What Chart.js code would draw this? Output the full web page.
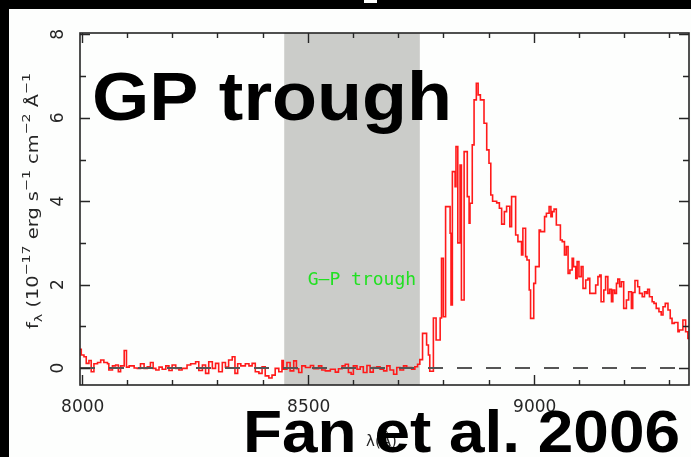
<!DOCTYPE html>
<html>
<head>
<meta charset="utf-8">
<script src="https://cdn.jsdelivr.net/npm/chart.js@4.4.1/dist/chart.umd.min.js"></script>
<style>
  html, body { margin: 0; padding: 0; background: #000; }
  canvas { display: block; }
</style>
</head>
<body>
<canvas id="spec" width="691" height="457"></canvas>
<script>
// bin start wavelengths (Angstrom) and flux (1e-17 erg/s/cm2/A)
const wavelength = [
  7996, 7999, 8005, 8010, 8016, 8021, 8027, 8035, 8042, 8049, 8057, 8060, 8068, 8075, 8081, 8086,
  8094, 8099, 8105, 8116, 8123, 8130, 8138, 8145, 8152, 8158, 8164, 8171, 8178, 8186, 8193, 8200,
  8208, 8215, 8222, 8233, 8241, 8252, 8259, 8267, 8274, 8281, 8289, 8296, 8303, 8311, 8318, 8325,
  8333, 8339, 8345, 8352, 8362, 8370, 8377, 8384, 8392, 8399, 8406, 8414, 8421, 8428, 8436, 8443,
  8446, 8454, 8461, 8469, 8475, 8480, 8487, 8495, 8506, 8513, 8524, 8531, 8539, 8550, 8561, 8568,
  8576, 8583, 8590, 8596, 8601, 8609, 8616, 8623, 8631, 8638, 8645, 8653, 8660, 8668, 8675, 8682,
  8690, 8697, 8704, 8712, 8719, 8730, 8737, 8743, 8748, 8754, 8763, 8767, 8770, 8778, 8784, 8793,
  8796, 8800, 8805, 8815, 8817, 8820, 8826, 8828, 8832, 8837, 8840, 8846, 8853, 8857, 8859, 8864,
  8868, 8873, 8877, 8882, 8890, 8896, 8901, 8905, 8909, 8918, 8924, 8929, 8935, 8940, 8947, 8951,
  8960, 8965, 8973, 8976, 8982, 8985, 8990, 8993, 9000, 9004, 9012, 9015, 9024, 9028, 9034, 9038,
  9041, 9045, 9050, 9059, 9063, 9068, 9072, 9076, 9080, 9085, 9088, 9093, 9096, 9100, 9105, 9109,
  9115, 9120, 9124, 9137, 9142, 9146, 9149, 9155, 9159, 9164, 9168, 9172, 9175, 9179, 9183, 9186,
  9190, 9194, 9199, 9205, 9210, 9216, 9219, 9224, 9230, 9234, 9240, 9245, 9249, 9252, 9256, 9262,
  9266, 9271, 9277, 9282, 9286, 9291, 9297, 9302, 9306, 9311, 9319, 9322, 9330, 9336, 9341, 9350
];
const flux = [
  0.45, 0.31, 0.27, 0.11, 0.18, -0.09, 0.10, 0.13, 0.19, 0.13, 0.10, -0.05, 0.05, 0.07, -0.09, 0.05,
  0.42, 0.02, 0.05, 0.00, -0.01, 0.10, -0.01, 0.03, 0.13, -0.01, -0.05, 0.02, -0.03, 0.05, -0.06, 0.07,
  -0.01, -0.05, -0.01, 0.07, 0.10, 0.15, -0.06, 0.07, -0.13, 0.15, -0.01, 0.11, -0.09, 0.13, 0.02, 0.19,
  0.27, -0.13, 0.10, 0.05, 0.10, 0.05, 0.11, -0.09, -0.13, 0.03, -0.19, -0.24, -0.17, -0.01, -0.09, 0.18,
  -0.03, 0.13, -0.07, 0.17, -0.02, -0.11, 0.05, 0.01, 0.06, -0.02, 0.05, -0.05, -0.07, -0.03, -0.10, -0.02,
  0.05, 0.09, -0.11, -0.15, 0.05, -0.03, 0.03, -0.11, 0.06, -0.10, 0.01, 0.03, -0.03, -0.07, 0.05, -0.05,
  -0.15, 0.01, -0.05, 0.05, 0.01, -0.03, 0.03, 0.09, 0.20, 0.83, 0.55, 0.31, -0.08, 1.20, 0.67, 1.20,
  2.63, 1.23, 3.87, 3.23, 1.51, 4.71, 4.35, 5.31, 3.00, 4.87, 1.63, 5.19, 4.11, 3.47, 3.95, 5.35,
  6.43, 6.83, 6.55, 6.43, 5.87, 5.23, 4.91, 4.15, 4.00, 3.96, 3.83, 3.45, 3.75, 3.88, 3.39, 4.11,
  3.19, 3.03, 2.71, 3.35, 2.67, 2.59, 1.87, 1.19, 2.03, 2.43, 3.31, 3.27, 3.63, 3.71, 3.87, 3.63,
  3.75, 3.81, 3.43, 3.07, 3.03, 2.71, 2.91, 2.27, 2.35, 2.63, 2.43, 2.15, 2.55, 2.19, 2.43, 1.91,
  2.11, 2.15, 1.79, 1.99, 2.19, 2.23, 1.59, 1.87, 2.19, 1.79, 1.89, 1.59, 1.87, 1.79, 2.03, 2.13,
  1.95, 2.07, 1.43, 1.63, 1.83, 1.43, 1.81, 2.10, 1.95, 1.79, 1.71, 1.83, 1.79, 1.89, 1.71, 1.59,
  1.55, 1.43, 1.35, 1.27, 1.47, 1.55, 1.39, 1.19, 1.07, 1.09, 0.87, 0.91, 1.15, 0.87, 0.71, 0.71
];

const xRange = [7996.2, 9343.5];
const yRange = [-0.408, 8.034];
const xMajorTicks = [8000, 8500, 9000];
const xMinorTicks = [8100, 8200, 8300, 8400, 8600, 8700, 8800, 8900, 9100, 9200, 9300];
const yMajorTicks = [0, 2, 4, 6, 8];
const yMinorTicks = [1, 3, 5, 7];
const troughBand = [8448, 8748];

const FRAME = '#262626';
const LABEL_FONT = '"DejaVu Sans", sans-serif';

// backdrop, white panel and the shaded trough band
const backdrop = {
  id: 'backdrop',
  beforeDraw(chart) {
    const { ctx, chartArea: a, scales: { x, y } } = chart;
    ctx.save();
    ctx.fillStyle = '#000';
    ctx.fillRect(0, 0, chart.width, chart.height);
    ctx.fillStyle = '#fdfefd';
    ctx.fillRect(9, 9, chart.width - 9, chart.height - 9);
    ctx.fillRect(364, 0, 13, 3);
    const x0 = x.getPixelForValue(troughBand[0]);
    const x1 = x.getPixelForValue(troughBand[1]);
    ctx.fillStyle = '#cbccc9';
    ctx.fillRect(x0, a.top, x1 - x0, a.bottom - a.top);
    ctx.fillStyle = '#22e022';
    ctx.font = '18px "DejaVu Sans Mono", monospace';
    ctx.textBaseline = 'alphabetic';
    ctx.fillText('G\u2013P trough', x.getPixelForValue(8500), y.getPixelForValue(2.0));
    ctx.restore();
  }
};

function drawYLabel(ctx) {
  const parts = [
    ['f', 0], ['\u03bb', 1], [' (10', 0], ['\u221217', -1], [' erg s', 0], ['\u22121', -1],
    [' cm', 0], ['\u22122', -1], [' \u00c5', 0], ['\u22121', -1]
  ];
  const fontFor = (k) => (k === 0 ? '15px ' : '11px ') + LABEL_FONT;
  let total = 0;
  parts.forEach(([t, k]) => { ctx.font = fontFor(k); total += ctx.measureText(t).width; });
  ctx.save();
  ctx.translate(38, 329);
  ctx.rotate(-Math.PI / 2);
  ctx.scale(256 / total, 1);
  ctx.fillStyle = FRAME;
  ctx.textBaseline = 'alphabetic';
  let u = 0;
  parts.forEach(([t, k]) => {
    ctx.font = fontFor(k);
    ctx.fillText(t, u, k === -1 ? -8 : k === 1 ? 4 : 0);
    u += ctx.measureText(t).width;
  });
  ctx.restore();
}

function fitText(ctx, text, left, baseline, width) {
  const w = ctx.measureText(text).width;
  ctx.save();
  ctx.translate(left, baseline);
  ctx.scale(width / w, 1);
  ctx.fillText(text, 0, 0);
  ctx.restore();
}

// PGPLOT-style box with inward ticks, tick labels and overlay captions
const frame = {
  id: 'frame',
  afterDraw(chart) {
    const { ctx, chartArea: a, scales: { x, y } } = chart;
    ctx.save();
    ctx.strokeStyle = FRAME;
    ctx.lineWidth = 1.6;
    ctx.strokeRect(a.left, a.top, a.right - a.left, a.bottom - a.top);

    ctx.beginPath();
    const xTick = (v, len) => {
      const px = Math.round(x.getPixelForValue(v)) + 0.5;
      ctx.moveTo(px, a.bottom); ctx.lineTo(px, a.bottom - len);
      ctx.moveTo(px, a.top); ctx.lineTo(px, a.top + len);
    };
    const yTick = (v, len) => {
      const py = Math.round(y.getPixelForValue(v)) + 0.5;
      ctx.moveTo(a.left, py); ctx.lineTo(a.left + len, py);
      ctx.moveTo(a.right, py); ctx.lineTo(a.right - len, py);
    };
    xMajorTicks.forEach(v => xTick(v, 10));
    xMinorTicks.forEach(v => xTick(v, 5));
    yMajorTicks.forEach(v => yTick(v, 10));
    yMinorTicks.forEach(v => yTick(v, 6));
    ctx.lineWidth = 1.4;
    ctx.stroke();

    ctx.fillStyle = FRAME;
    ctx.font = '17px ' + LABEL_FONT;
    ctx.textAlign = 'center';
    ctx.textBaseline = 'alphabetic';
    xMajorTicks.forEach(v => ctx.fillText(String(v), x.getPixelForValue(v) + 1, 412));
    yMajorTicks.forEach(v => {
      ctx.save();
      ctx.translate(63, y.getPixelForValue(v));
      ctx.rotate(-Math.PI / 2);
      ctx.fillText(String(v), 0, 0);
      ctx.restore();
    });
    ctx.font = '15px ' + LABEL_FONT;
    ctx.textAlign = 'left';
    ctx.fillText('\u03bb(\u00c5)', 366, 446);
    drawYLabel(ctx);

    ctx.fillStyle = '#000';
    ctx.font = 'bold 68px "Liberation Sans", Arial, sans-serif';
    fitText(ctx, 'GP trough', 92, 120, 360);
    ctx.font = 'bold 60px "Liberation Sans", Arial, sans-serif';
    fitText(ctx, 'Fan et al. 2006', 243, 452, 437);
    ctx.restore();
  }
};

const points = wavelength.map((w, i) => ({ x: w, y: flux[i] }));

new Chart(document.getElementById('spec'), {
  type: 'line',
  data: {
    datasets: [
      {
        data: [{ x: xRange[0], y: 0 }, { x: xRange[1], y: 0 }],
        borderColor: '#555',
        borderWidth: 2,
        borderDash: [15, 14],
        pointRadius: 0,
        order: 0
      },
      {
        data: points,
        stepped: true,
        borderColor: '#ff1a1a',
        borderWidth: 1.6,
        pointRadius: 0,
        order: 1
      }
    ]
  },
  options: {
    responsive: false,
    animation: false,
    layout: { padding: { left: 80, top: 33, right: 2, bottom: 72 } },
    scales: {
      x: { type: 'linear', min: xRange[0], max: xRange[1], display: false },
      y: { type: 'linear', min: yRange[0], max: yRange[1], display: false }
    },
    plugins: { legend: { display: false }, tooltip: { enabled: false } }
  },
  plugins: [backdrop, frame]
});
</script>
</body>
</html>
